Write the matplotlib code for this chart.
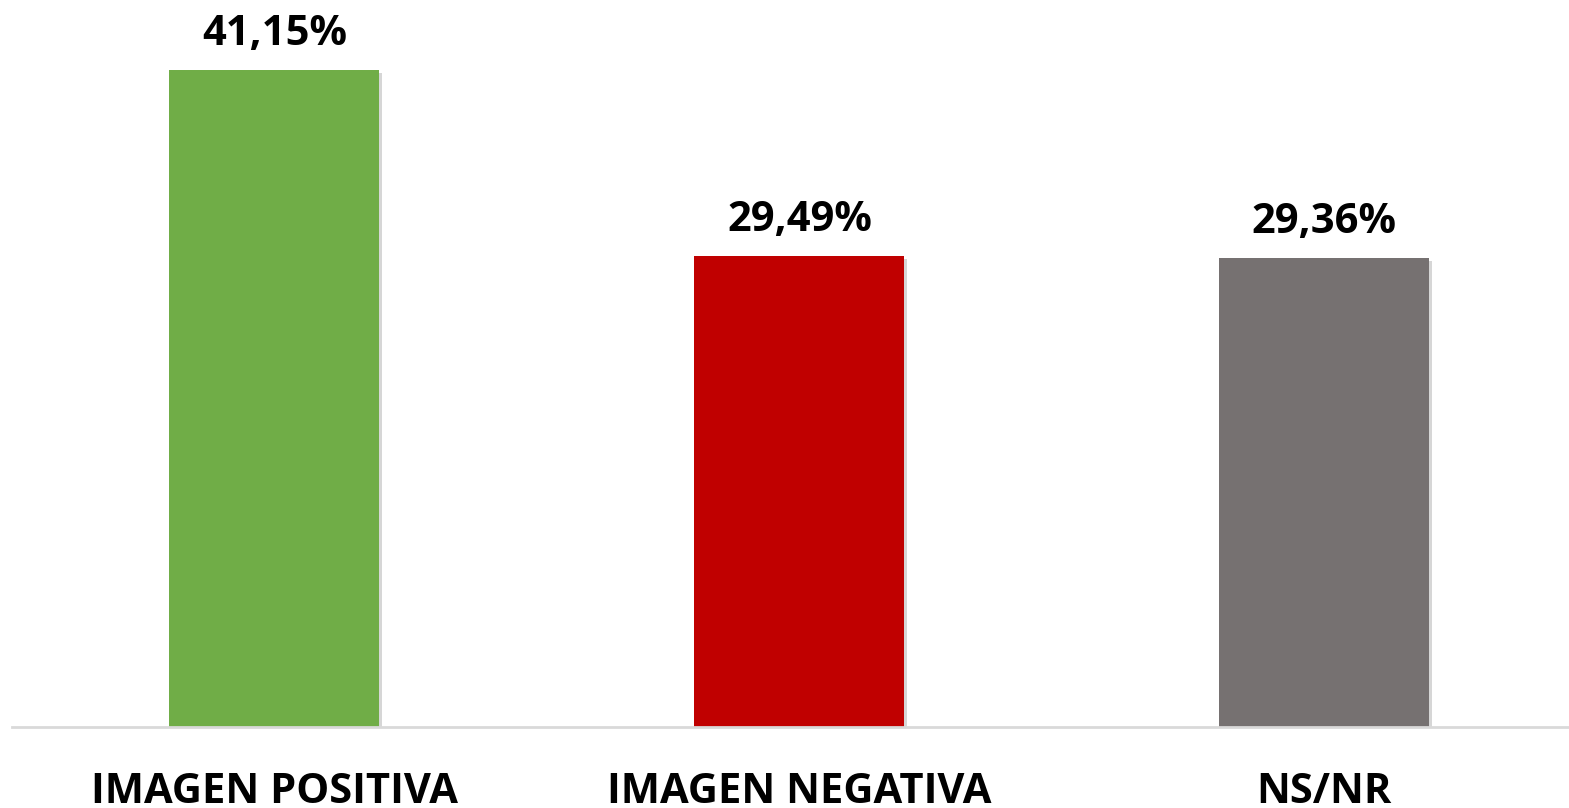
import matplotlib
matplotlib.use("Agg")
import matplotlib.pyplot as plt
import matplotlib.patheffects as pe

categories = ["IMAGEN POSITIVA", "IMAGEN NEGATIVA", "NS/NR"]
values = [41.15, 29.49, 29.36]
labels = ["41,15%", "29,49%", "29,36%"]
colors = ["#70AD47", "#C00000", "#767171"]

plt.rcParams['font.family'] = ['Open Sans', 'DejaVu Sans']

fig = plt.figure(figsize=(15.69, 8.08), dpi=100)
ax = fig.add_axes([12/1569, (808-727)/808, 1 - 12/1569, 727/808])

x = list(range(len(categories)))
bars = ax.bar(x, values, width=0.40, color=colors, zorder=2)
for b in bars:
    b.set_path_effects([pe.SimplePatchShadow(offset=(2, -2), shadow_rgbFace='#999999', alpha=0.4), pe.Normal()])

for xi, v, lab in zip(x, values, labels):
    ax.annotate(lab, (xi, v), xytext=(0, 18), textcoords='offset points',
                ha='center', va='baseline', fontsize=30, fontweight='bold', color='black')

for xi, cat in zip(x, categories):
    ax.annotate(cat, (xi, 0), xytext=(0, -54.5), textcoords='offset points',
                ha='center', va='baseline', fontsize=30, fontweight='bold', color='black',
                annotation_clip=False)

ax.set_xlim(-0.5, 2.466)
ax.set_ylim(0, 45.53)
ax.set_yticks([])
ax.set_xticks([])
for s in ['top', 'left', 'right']:
    ax.spines[s].set_visible(False)
ax.spines['bottom'].set_color('#D9D9D9')
ax.spines['bottom'].set_linewidth(2)

fig.savefig("out.png", dpi=100)
